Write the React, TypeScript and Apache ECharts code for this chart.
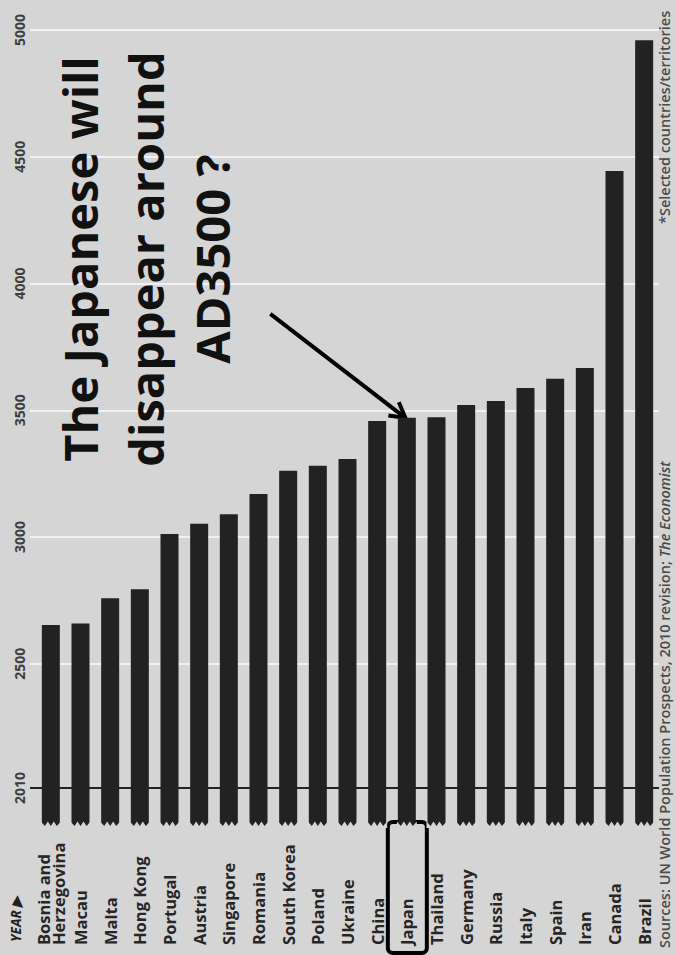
import React, { useEffect, useRef } from 'react';
import * as echarts from 'echarts';

// ---- data ----
const categories = [
  'Bosnia and\nHerzegovina', 'Macau', 'Malta', 'Hong Kong', 'Portugal', 'Austria',
  'Singapore', 'Romania', 'South Korea', 'Poland', 'Ukraine', 'China', 'Japan',
  'Thailand', 'Germany', 'Russia', 'Italy', 'Spain', 'Iran', 'Canada', 'Brazil',
];
const extinctionYear = [
  2653, 2659, 2758, 2794, 3012, 3052, 3090, 3170, 3261, 3281, 3308, 3458, 3470,
  3472, 3521, 3537, 3588, 3624, 3667, 4444, 4960,
];
const yearLabels = [2010, 2500, 3000, 3500, 4000, 4500, 5000];
const gridYears = [2500, 3000, 3500, 4000, 4500, 5000];
const baseYear = 2010;
const highlighted = 'Japan';
const titleText = 'The Japanese will\ndisappear around\nAD3500 ?';
const sourceText = 'Sources: UN World Population Prospects, 2010 revision; ';
const sourceItalic = 'The Economist';
const footnoteText = '*Selected countries/territories';

const AXIS_MIN = 1860;
const AXIS_MAX = 5000;
const BG = '#d5d5d5';
const BAR = '#222222';
const FONT = '"Open Sans", "Noto Sans", sans-serif';

export default function App() {
  const ref = useRef<HTMLDivElement>(null);

  useEffect(() => {
    if (!ref.current) return;
    const chart = echarts.init(ref.current, undefined, { renderer: 'svg' });
    const barW = 18;

    chart.setOption({
      animation: false,
      backgroundColor: BG,
      grid: { left: 36, right: 17, top: 30, bottom: 129, containLabel: false },
      xAxis: {
        type: 'category',
        data: categories,
        axisLine: { show: false },
        axisTick: { show: false },
        splitLine: { show: false },
        axisLabel: {
          interval: 0,
          rotate: 90,
          align: 'left',
          verticalAlign: 'middle',
          margin: 119,
          fontFamily: FONT,
          fontSize: 16.5,
          fontWeight: 'bold',
          lineHeight: 15,
          color: '#262626',
        },
      },
      yAxis: {
        type: 'value',
        min: AXIS_MIN,
        max: AXIS_MAX,
        axisLine: { show: false },
        axisTick: {
          show: true,
          length: 6,
          customValues: gridYears,
          lineStyle: { color: '#f2f2f2', width: 2 },
        },
        splitLine: { show: true, lineStyle: { color: '#f2f2f2', width: 2 } },
        axisLabel: {
          customValues: yearLabels,
          formatter: (v: number) => String(v),
          rotate: 90,
          margin: 10,
          fontFamily: FONT,
          fontSize: 14,
          fontWeight: 'bold',
          color: '#3e3e3e',
        },
      },
      series: [
        {
          type: 'bar',
          data: extinctionYear,
          barWidth: barW,
          itemStyle: { color: BAR },
          z: 2,
          markLine: {
            silent: true,
            symbol: 'none',
            label: { show: false },
            lineStyle: { color: '#222', width: 2, type: 'solid' },
            data: [{ yAxis: baseYear }],
          },
        },
        {
          type: 'custom',
          z: 3,
          silent: true,
          data: categories.map((_, i) => [i, AXIS_MIN]),
          renderItem: (params: any, api: any) => {
            const p = api.coord([api.value(0), api.value(1)]);
            const w = barW;
            const l = p[0] - w / 2;
            const r = p[0] + w / 2;
            const yb = p[1];
            const d = 4.5;
            return {
              type: 'polygon',
              shape: {
                points: [
                  [l - 1, yb + 2], [l - 1, yb - d], [l + w / 6, yb], [l + w / 3, yb - d],
                  [l + w / 2, yb], [l + (2 * w) / 3, yb - d], [l + (5 * w) / 6, yb],
                  [r + 1, yb - d], [r + 1, yb + 2],
                ],
              },
              style: { fill: BG },
            };
          },
        },
      ],
    });

    const ji = categories.indexOf(highlighted);
    const top = chart.convertToPixel({ gridIndex: 0 }, [ji, extinctionYear[ji]]) as number[];
    const base = chart.convertToPixel({ gridIndex: 0 }, [ji, AXIS_MIN]) as number[];
    const base2010 = chart.convertToPixel({ gridIndex: 0 }, [0, baseYear]) as number[];
    const tip = [top[0] - 1.5, top[1]];
    const tail = [tip[0] - 135, tip[1] - 104];

    chart.setOption({
      graphic: [
        {
          type: 'line',
          shape: { x1: 30, y1: base2010[1], x2: 37, y2: base2010[1] },
          style: { stroke: '#222', lineWidth: 2 },
        },
        {
          type: 'text',
          x: 146,
          y: 259,
          rotation: Math.PI / 2,
          style: {
            text: titleText,
            fontFamily: FONT,
            fontSize: 47,
            fontWeight: 'bold',
            lineHeight: 66,
            fill: '#111',
            align: 'center',
            verticalAlign: 'middle',
          },
        },
        {
          type: 'polyline',
          shape: { points: [tail, tip] },
          style: { stroke: '#000', lineWidth: 4, fill: null },
        },
        {
          type: 'polyline',
          shape: {
            points: [
              [tip[0] - 6.5, tip[1] - 15.7],
              tip,
              [tip[0] - 16.9, tip[1] - 2.3],
            ],
          },
          style: { stroke: '#000', lineWidth: 4, fill: null, lineJoin: 'miter' },
        },
        {
          type: 'rect',
          shape: { x: base[0] - 19, y: base[1] - 4, width: 39, height: 131, r: 5 },
          style: { stroke: '#000', lineWidth: 4, fill: null },
        },
        {
          type: 'text',
          x: 16,
          y: 942,
          rotation: Math.PI / 2,
          style: {
            text: 'YEAR ▶',
            fontFamily: FONT,
            fontSize: 13.5,
            fontWeight: 'bold',
            fontStyle: 'italic',
            fill: '#222',
            align: 'left',
            verticalAlign: 'middle',
          },
        },
        {
          type: 'text',
          x: 672,
          y: 948,
          rotation: Math.PI / 2,
          style: {
            text: '{a|' + sourceText + '}{b|' + sourceItalic + '}',
            fontFamily: FONT,
            fontSize: 14.5,
            fill: '#4a4a4a',
            align: 'left',
            verticalAlign: 'bottom',
            rich: {
              a: { fontFamily: FONT, fontSize: 14.5, fontWeight: 600, fill: '#4a4a4a' },
              b: { fontFamily: FONT, fontSize: 14.5, fontWeight: 600, fontStyle: 'italic', fill: '#4a4a4a' },
            },
          },
        },
        {
          type: 'text',
          x: 672,
          y: 224,
          rotation: Math.PI / 2,
          style: {
            text: footnoteText,
            fontFamily: FONT,
            fontSize: 14.5,
            fontWeight: 600,
            fill: '#4a4a4a',
            align: 'left',
            verticalAlign: 'bottom',
          },
        },
      ],
    });

    return () => chart.dispose();
  }, []);

  return (
    <div
      ref={ref}
      style={{ position: 'absolute', left: 0, top: 0, width: 676, height: 955 }}
    />
  );
}
